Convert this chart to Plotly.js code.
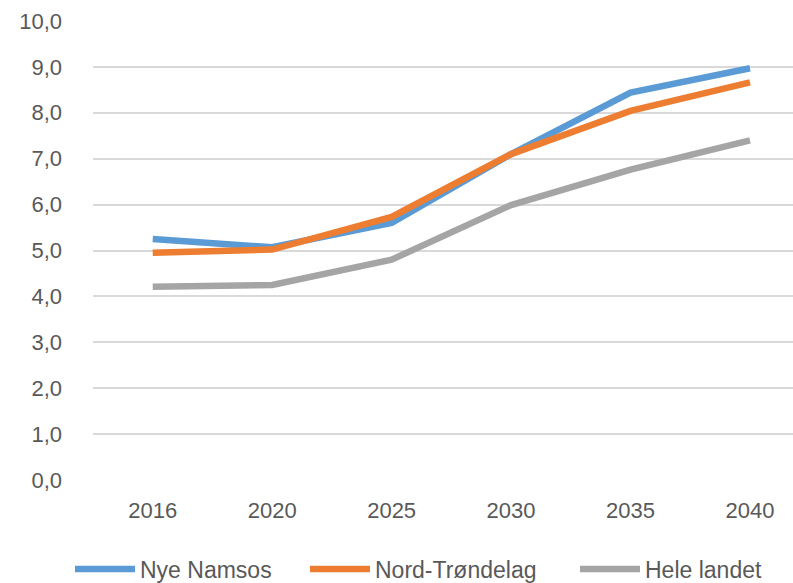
<!DOCTYPE html>
<html>
<head>
<meta charset="utf-8">
<script src="https://cdn.plot.ly/plotly-3.0.1.min.js"></script>
<style>html,body{margin:0;padding:0;background:#fff;}#chart{width:793px;height:583px;}</style>
</head>
<body>
<div id="chart"></div>
<script>
const years = ["2016", "2020", "2025", "2030", "2035", "2040"];
const nyeNamsos = [5.25, 5.07, 5.60, 7.10, 8.44, 8.97];
const nordTrondelag = [4.95, 5.02, 5.73, 7.10, 8.04, 8.66];
const heleLandet = [4.21, 4.25, 4.80, 5.99, 6.76, 7.40];
const yTicks = [0,1,2,3,4,5,6,7,8,9,10];

const txt = '#595959';
const font = "'Liberation Sans', Arial, sans-serif";
function tr(name, y, color, lg){
  return {x: years, y: y, name: name, type: 'scatter', mode: 'lines', legend: lg,
    line: {color: color, width: 6.5}, hoverinfo: 'skip'};
}
const data = [
  tr('Nye Namsos', nyeNamsos, '#5B9BD5', 'legend'),
  tr('Nord-Trøndelag', nordTrondelag, '#ED7D31', 'legend2'),
  tr('Hele landet', heleLandet, '#A5A5A5', 'legend3')
];
function lg(px){
  return {orientation: 'h', xref: 'container', yref: 'container', x: px / 793, xanchor: 'left',
    y: 1 - 569 / 583, yanchor: 'middle', itemwidth: 60, bgcolor: 'rgba(0,0,0,0)',
    font: {family: font, color: txt, size: 23}};
}
const layout = {
  width: 793, height: 583,
  margin: {l: 92.7, r: 0, t: 20, b: 102, autoexpand: false},
  paper_bgcolor: '#fff', plot_bgcolor: '#fff',
  separators: ', ',
  font: {family: font, color: txt, size: 22},
  showlegend: true,
  legend: lg(70), legend2: lg(305), legend3: lg(575),
  xaxis: {type: 'category', range: [-0.5, 5.36], showgrid: false, zeroline: false,
    showline: false, ticks: '', ticklabelstandoff: 14,
    tickfont: {family: font, color: txt, size: 22}, fixedrange: true},
  yaxis: {range: [-0.02, 10.02], tickvals: yTicks, tickformat: '.1f', showgrid: true,
    gridcolor: '#D9D9D9', gridwidth: 2, zeroline: false, showline: false, ticks: '',
    ticklabelstandoff: 30, tickfont: {family: font, color: txt, size: 22}, fixedrange: true}
};
Plotly.newPlot('chart', data, layout, {displayModeBar: false, staticPlot: true});
</script>
</body>
</html>
